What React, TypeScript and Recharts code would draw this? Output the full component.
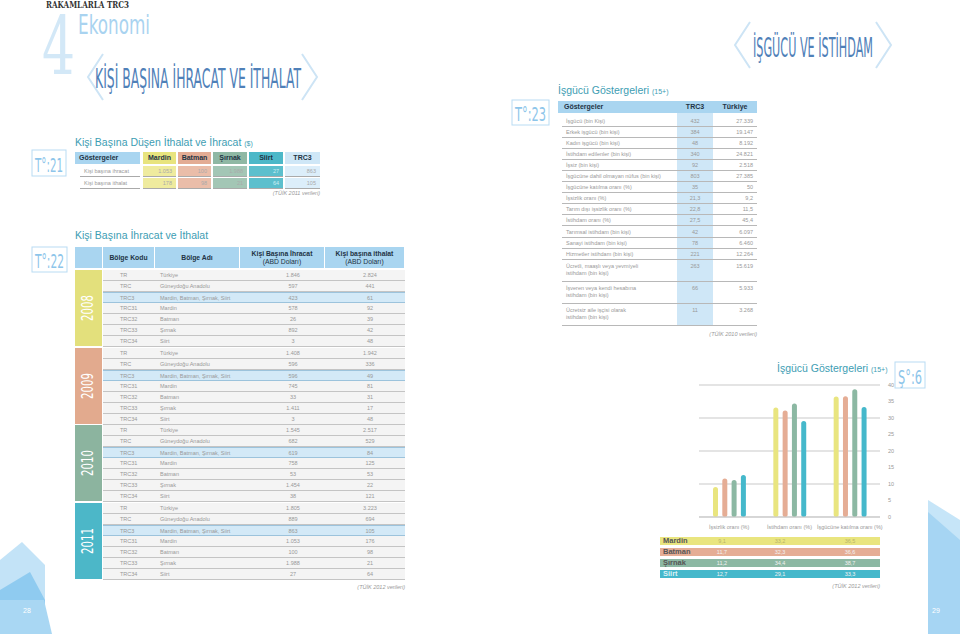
import React from "react";
import { BarChart, Bar, XAxis, YAxis, CartesianGrid } from "recharts";

// chart: İşgücü Göstergeleri (15+)
const indicators = ["İşsizlik oranı (%)", "İstihdam oranı (%)", "İşgücüne katılma oranı (%)"];
const provinces = ["Mardin", "Batman", "Şırnak", "Siirt"];
const mardin = [9.1, 33.2, 36.5];
const batman = [11.7, 32.3, 36.6];
const sirnak = [11.2, 34.4, 38.7];
const siirt = [12.7, 29.1, 33.3];
const yTicks = [0, 5, 10, 15, 20, 25, 30, 35, 40];
const provColors = ["#e9e57f", "#e5ad95", "#8cb8a3", "#45b8cb"];

// T:21
const t21Cols = ["Mardin", "Batman", "Şırnak", "Siirt", "TRC3"];
const t21Rows = ["Kişi başına ihracat", "Kişi başına ithalat"];
const perCapitaExport = ["1.053", "100", "1.988", "27", "863"];
const perCapitaImport = ["178", "98", "21", "64", "105"];

// T:22
const years = ["2008", "2009", "2010", "2011"];
const regionCodes = ["TR", "TRC", "TRC3", "TRC31", "TRC32", "TRC33", "TRC34"];
const regionNames = ["Türkiye", "Güneydoğu Anadolu", "Mardin, Batman, Şırnak, Siirt", "Mardin", "Batman", "Şırnak", "Siirt"];
const exports2008 = ["1.846", "597", "423", "578", "26", "892", "3"];
const imports2008 = ["2.824", "441", "61", "92", "39", "42", "48"];
const exports2009 = ["1.408", "596", "596", "745", "33", "1.411", "3"];
const imports2009 = ["1.942", "336", "49", "81", "31", "17", "48"];
const exports2010 = ["1.545", "682", "619", "758", "53", "1.454", "38"];
const imports2010 = ["2.517", "529", "84", "125", "53", "22", "121"];
const exports2011 = ["1.805", "889", "863", "1.053", "100", "1.988", "27"];
const imports2011 = ["3.223", "694", "105", "176", "98", "21", "64"];
const yearColors = ["#e3e07c", "#e2aa8e", "#8cb49f", "#4cb7c8"];

// T:23
const t23Labels = [
  "İşgücü (bin Kişi)", "Erkek işgücü (bin kişi)", "Kadın işgücü (bin kişi)", "İstihdam edilenler (bin kişi)",
  "İşsiz (bin kişi)", "İşgücüne dahil olmayan nüfus (bin kişi)", "İşgücüne katılma oranı (%)", "İşsizlik oranı (%)",
  "Tarım dışı işsizlik oranı (%)", "İstihdam oranı (%)", "Tarımsal istihdam (bin kişi)", "Sanayi istihdam (bin kişi)",
  "Hizmetler istihdam (bin kişi)", "Ücretli, maaşlı veya yevmiyeli\nistihdam (bin kişi)",
  "İşveren veya kendi hesabına\nistihdam (bin kişi)", "Ücretsiz aile işçisi olarak\nistihdam (bin kişi)"
];
const t23Trc3 = ["432", "384", "48", "340", "92", "803", "35", "21,3", "22,8", "27,5", "42", "78", "221", "263", "66", "11"];
const t23Turkey = ["27.339", "19.147", "8.192", "24.821", "2.518", "27.385", "50", "9,2", "11,5", "45,4", "6.097", "6.460", "12.264", "15.619", "5.933", "3.268"];

const sans = '"Liberation Sans", Arial, sans-serif';
const cond = '"DejaVu Sans Condensed", "DejaVu Sans", sans-serif';
const serifCond = '"DejaVu Serif Condensed", "DejaVu Serif", serif';
const teal = "#3d9db3";
const hdrBlue = "#a9d5f0";

const abs = (x: number, y: number, w: number, h: number): React.CSSProperties => ({
  position: "absolute", left: x, top: y, width: w, height: h
});

let ctx: CanvasRenderingContext2D | null = null;
function measure(text: string, font: string) {
  if (!ctx) ctx = document.createElement("canvas").getContext("2d");
  if (!ctx) return text.length * 10;
  ctx.font = font;
  return ctx.measureText(text).width;
}

// display text squeezed to a given width, placed by its baseline
function Squeeze({ x, base, w, size, color, text, family = cond, weight = 400 }: any) {
  const natural = measure(text, `${weight} ${size}px ${family}`);
  return (
    <div style={{ position: "absolute", left: x, top: base - 0.928 * size, fontFamily: family, fontWeight: weight, fontSize: size, lineHeight: "normal", color, whiteSpace: "nowrap", transform: `scaleX(${w / natural})`, transformOrigin: "left top" }}>
      {text}
    </div>
  );
}

function TBox({ x, y, w, h, text }: any) {
  return (
    <g>
      <rect x={x} y={y} width={w} height={h} fill="#fff" stroke="#b9dcf3" strokeWidth={1} />
      <text x={x + 3} y={y + h - 4} fontSize={19} fill="#8dc5ea" fontFamily={cond} textLength={w - 6} lengthAdjust="spacingAndGlyphs">{text}</text>
    </g>
  );
}

function Decor() {
  return (
    <svg width={960} height={634} style={{ position: "absolute", left: 0, top: 0 }}>
      <polyline points="103,54 88,77 103,100" fill="none" stroke="#cde4f5" strokeWidth={2} />
      <polyline points="302,54 317,77 302,100" fill="none" stroke="#cde4f5" strokeWidth={2} />
      <polyline points="750,22 735,45 750,68" fill="none" stroke="#cde4f5" strokeWidth={2} />
      <polyline points="876,22 891,45 876,68" fill="none" stroke="#cde4f5" strokeWidth={2} />
      <TBox x={32} y={150} w={34} h={26} text="T°:21" />
      <TBox x={32} y={247} w={35} h={25} text="T°:22" />
      <TBox x={512} y={100} w={37} h={25} text="T°:23" />
      <TBox x={895} y={362} w={30} h={26} text="Ş°:6" />
      {/* corners */}
      <polygon points="0,560 22,542 45,565 45,634 0,634" fill="#c3e3f7" />
      <polygon points="0,590 30,572 45,600 45,634 0,634" fill="#8fcbf0" />
      <polygon points="0,600 44,600 52,634 0,634" fill="#a9d7f3" />
      <polygon points="928,500 960,520 960,634 928,634" fill="#c6e5f8" />
      <polygon points="928,512 960,540 960,634 928,634" fill="#a6d5f3" />
      <text x={27} y={613} fontSize={7} fill="#fff" fontFamily={sans} textAnchor="middle">28</text>
      <text x={936} y={613} fontSize={7} fill="#fff" fontFamily={sans} textAnchor="middle">29</text>
    </svg>
  );
}

function Headings() {
  return (
    <>
      <Squeeze x={42} base={74} w={33} size={80} color="#d3e8f7" family={serifCond} text="4" />
      <Squeeze x={46} base={8} w={83} size={9} color="#333" weight={700} family='"DejaVu Serif", serif' text="RAKAMLARLA TRC3" />
      <Squeeze x={78} base={34} w={72} size={26} color="#a9d3f0" text="Ekonomi" />
      <Squeeze x={95} base={88} w={206} size={26} color="#4f80b8" text="KİŞİ BAŞINA İHRACAT VE İTHALAT" />
      <Squeeze x={753} base={57} w={120} size={26} color="#4f80b8" text="İŞGÜCÜ VE İSTİHDAM" />
    </>
  );
}

function TableT21() {
  const colX = [143, 178, 213, 249, 285];
  const colW = [33, 33, 34, 34, 35];
  const hdr = ["#e8e47e", "#e3ac94", "#8fb8a4", "#4cb8c8", "#cfe7f7"];
  const body = ["#efeb9e", "#eabda9", "#a3c6b5", "#5cbfcd", "#dceefa"];
  const rows = [perCapitaExport, perCapitaImport];
  return (
    <>
      <div style={{ ...abs(75, 136, 300, 14), color: teal, fontSize: 10.5 }}>
        Kişi Başına Düşen İthalat ve İhracat <span style={{ fontSize: 7 }}>($)</span>
      </div>
      <div style={{ ...abs(75, 152, 65, 12), background: hdrBlue, fontSize: 7, fontWeight: 700, color: "#234", lineHeight: "12px", paddingLeft: 4, boxSizing: "border-box" }}>Göstergeler</div>
      {t21Cols.map((c, i) => (
        <div key={c} style={{ ...abs(colX[i], 152, colW[i], 12), background: hdr[i], fontSize: 7, fontWeight: 700, color: "#234", lineHeight: "12px", textAlign: "center" }}>{c}</div>
      ))}
      {t21Rows.map((r, ri) => (
        <React.Fragment key={r}>
          <div style={{ ...abs(80, 166 + ri * 11.5, 60, 11), borderBottom: "1px solid #aaa", fontSize: 5.5, color: "#999", lineHeight: "11px", paddingLeft: 4, boxSizing: "border-box" }}>{r}</div>
          {rows[ri].map((v, ci) => (
            <div key={ci} style={{ ...abs(colX[ci], 166 + ri * 11.5, colW[ci], 11), background: body[ci], borderBottom: "1px solid #aaa", fontSize: 5.5, color: ci === 3 ? "#cdeef3" : "#aaa", lineHeight: "11px", textAlign: "right", paddingRight: 4, boxSizing: "border-box" }}>{v}</div>
          ))}
        </React.Fragment>
      ))}
      <div style={{ ...abs(220, 190, 100, 10), fontSize: 5.5, fontStyle: "italic", color: "#999", textAlign: "right" }}>(TÜİK 2011 verileri)</div>
    </>
  );
}

function TableT22() {
  const rowH = 310 / 28;
  const exp = [exports2008, exports2009, exports2010, exports2011];
  const imp = [imports2008, imports2009, imports2010, imports2011];
  const hdrCell = (x: number, w: number, content: React.ReactNode) => (
    <div style={{ ...abs(x, 247, w, 21), background: hdrBlue, borderRight: "1px solid #fff", boxSizing: "border-box", fontSize: 6.8, color: "#234", display: "flex", alignItems: "center", justifyContent: "center", textAlign: "center", lineHeight: "8px" }}>{content}</div>
  );
  return (
    <>
      <div style={{ ...abs(75, 229, 300, 14), color: teal, fontSize: 10.5 }}>Kişi Başına İhracat ve İthalat</div>
      {hdrCell(75, 28, "")}
      {hdrCell(103, 52, <b>Bölge Kodu</b>)}
      {hdrCell(155, 85, <b>Bölge Adı</b>)}
      {hdrCell(240, 85, <span><b>Kişi Başına İhracat</b><br />(ABD Doları)</span>)}
      {hdrCell(325, 80, <span><b>Kişi başına ithalat</b><br />(ABD Doları)</span>)}
      {years.map((y, yi) => (
        <div key={y} style={{ ...abs(75, 270 + yi * 7 * rowH, 27, 7 * rowH - 1.5), background: yearColors[yi], display: "flex", alignItems: "center", justifyContent: "center" }}>
          <div style={{ transform: "rotate(-90deg) scaleX(0.75)", color: "#fff", fontFamily: cond, fontSize: 15 }}>{y}</div>
        </div>
      ))}
      {years.map((y, yi) =>
        regionCodes.map((code, j) => {
          const top = 270 + (yi * 7 + j) * rowH;
          const hi = j === 2;
          return (
            <div key={y + code} style={{ ...abs(103, top, 302, rowH), background: hi ? "#d3e9f7" : "#f4f4f4", borderBottom: hi ? "1px solid #9cc3dc" : "1px solid #c4c4c4", borderTop: hi ? "1px solid #9cc3dc" : undefined, boxSizing: "border-box", fontSize: 5.5, color: "#999", lineHeight: `${rowH - 1}px` }}>
              <span style={{ position: "absolute", left: 17 }}>{code}</span>
              <span style={{ position: "absolute", left: 57 }}>{regionNames[j]}</span>
              <span style={{ position: "absolute", left: 160, width: 60, textAlign: "center" }}>{exp[yi][j]}</span>
              <span style={{ position: "absolute", left: 237, width: 60, textAlign: "center" }}>{imp[yi][j]}</span>
            </div>
          );
        })
      )}
      <div style={{ ...abs(300, 584, 105, 10), fontSize: 5.5, fontStyle: "italic", color: "#999", textAlign: "right" }}>(TÜİK 2012 verileri)</div>
    </>
  );
}

function TableT23() {
  const single = 11.1;
  const tops: number[] = [];
  const heights: number[] = [];
  let y = 115.5;
  t23Labels.forEach((l) => {
    const h = l.includes("\n") ? 22 : single;
    tops.push(y);
    heights.push(h);
    y += h;
  });
  return (
    <>
      <div style={{ ...abs(558, 84, 200, 14), color: teal, fontSize: 10.5 }}>
        İşgücü Göstergeleri <span style={{ fontSize: 7 }}>(15+)</span>
      </div>
      <div style={{ ...abs(558, 101, 199, 12), background: hdrBlue, fontSize: 7, fontWeight: 700, color: "#234", lineHeight: "12px" }}>
        <span style={{ position: "absolute", left: 6 }}>Göstergeler</span>
        <span style={{ position: "absolute", left: 119, width: 36, textAlign: "center" }}>TRC3</span>
        <span style={{ position: "absolute", left: 155, width: 44, textAlign: "center" }}>Türkiye</span>
      </div>
      <div style={{ ...abs(677, 113, 36, y - 113), background: "#cfe7f7" }} />
      {t23Labels.map((l, i) => (
        <div key={l} style={{ ...abs(562, tops[i], 195, heights[i]), borderBottom: "1px solid #b8b8b8", boxSizing: "border-box", fontSize: 5.5, color: "#999", lineHeight: "7px" }}>
          <span style={{ position: "absolute", left: 4, top: heights[i] > 12 ? 3 : 2, whiteSpace: "pre" }}>{l}</span>
          <span style={{ position: "absolute", left: 115, width: 36, top: heights[i] > 12 ? 3 : 2, textAlign: "center" }}>{t23Trc3[i]}</span>
          <span style={{ position: "absolute", left: 151, width: 40, top: heights[i] > 12 ? 3 : 2, textAlign: "right" }}>{t23Turkey[i]}</span>
        </div>
      ))}
      <div style={{ ...abs(650, 331, 107, 10), fontSize: 5.5, fontStyle: "italic", color: "#999", textAlign: "right" }}>(TÜİK 2010 verileri)</div>
    </>
  );
}

function LaborChart() {
  const series = [mardin, batman, sirnak, siirt];
  const data = indicators.map((name, i) => {
    const row: any = { name };
    provinces.forEach((p, k) => (row[p] = series[k][i]));
    return row;
  });
  const legendCols = [722, 780, 850];
  return (
    <>
      <div style={{ ...abs(777, 362, 120, 14), color: teal, fontSize: 10.5, whiteSpace: "nowrap" }}>
        İşgücü Göstergeleri <span style={{ fontSize: 7 }}>(15+)</span>
      </div>
      <div style={{ ...abs(678, 375, 222, 158) }}>
        <BarChart width={222} height={158} data={data} margin={{ top: 10, right: 0, left: 21, bottom: 0 }} barSize={5} barGap={4.3}>
          <CartesianGrid vertical={false} stroke="#c9c9c9" />
          <XAxis dataKey="name" interval={0} height={16} tickLine={false} axisLine={{ stroke: "#c9c9c9" }}
            tick={{ fontSize: 5.5, fill: "#999", fontFamily: sans }} />
          <YAxis orientation="right" width={20} domain={[0, 40]} ticks={yTicks} axisLine={false} tickLine={false}
            tick={{ fontSize: 5.5, fill: "#999", fontFamily: sans }} />
          {provinces.map((p, k) => (
            <Bar key={p} dataKey={p} fill={provColors[k]} radius={[2.5, 2.5, 2.5, 2.5]} isAnimationActive={false} />
          ))}
        </BarChart>
      </div>
      {provinces.map((p, k) => (
        <div key={p} style={{ ...abs(660, 536.5 + k * 11, 220, 8), background: provColors[k], fontSize: 7.5, lineHeight: "8px" }}>
          <span style={{ position: "absolute", left: 3, fontWeight: 700, color: k === 3 ? "#d8f1f5" : "#555" }}>{p}</span>
          {series[k].map((v, i) => (
            <span key={i} style={{ position: "absolute", left: legendCols[i] - 660 - 20, width: 40, textAlign: "center", fontSize: 5.5, color: k === 0 ? "#b9b46a" : "#f2f2f2" }}>
              {v.toFixed(1).replace(".", ",")}
            </span>
          ))}
        </div>
      ))}
      <div style={{ ...abs(780, 583, 100, 10), fontSize: 5.5, fontStyle: "italic", color: "#999", textAlign: "right" }}>(TÜİK 2012 verileri)</div>
    </>
  );
}

export default function App() {
  return (
    <div style={{ position: "fixed", left: 0, top: 0, width: 960, height: 634, background: "#fff", overflow: "hidden", fontFamily: sans }}>
      <Decor />
      <Headings />
      <TableT21 />
      <TableT22 />
      <TableT23 />
      <LaborChart />
    </div>
  );
}
